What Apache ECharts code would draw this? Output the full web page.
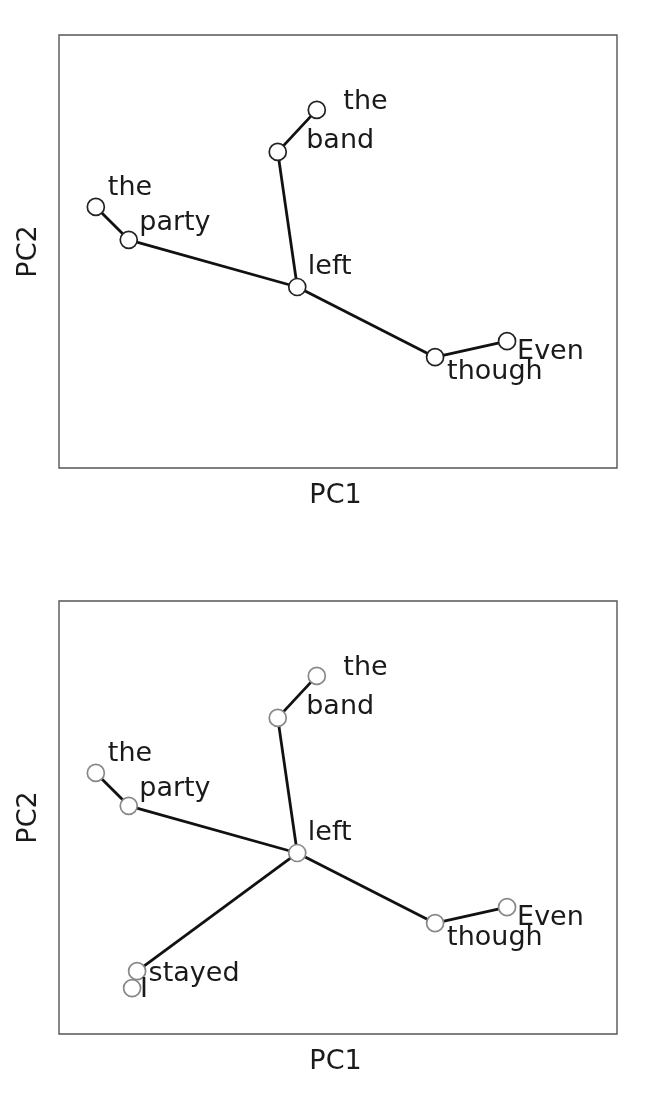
<!DOCTYPE html>
<html>
<head>
<meta charset="utf-8">
<script src="https://cdn.jsdelivr.net/npm/echarts@6/dist/echarts.min.js"></script>
<style>html,body{margin:0;padding:0;background:#fff;}#chart{width:658px;height:1108px;}</style>
</head>
<body>
<div id="chart"></div>
<script>
// ---- data ----
const wordsTop = ['the', 'band', 'the', 'party', 'left', 'though', 'Even'];
const pc1Top = [46.2, 39.2, 6.6, 12.5, 42.7, 67.4, 80.3];
const pc2Top = [82.7, 73.0, 60.3, 52.7, 41.8, 25.6, 29.3];
const edgesTop = [[0, 1], [1, 4], [2, 3], [3, 4], [4, 5], [5, 6]];

const wordsBottom = ['the', 'band', 'the', 'party', 'left', 'though', 'Even', 'stayed', 'I'];
const pc1Bottom = [46.2, 39.2, 6.6, 12.5, 42.7, 67.4, 80.3, 14.0, 13.1];
const pc2Bottom = [82.7, 73.0, 60.3, 52.7, 41.8, 25.6, 29.3, 14.5, 10.6];
const edgesBottom = [[0, 1], [1, 4], [2, 3], [3, 4], [4, 5], [5, 6], [4, 7]];

const axisNames = ['PC1', 'PC2'];

// ---- styling (label pixel offsets from marker centre) ----
const labelOffsets = [[26.5, -8], [28.5, -10.5], [12, -18.5], [10.5, -16.5], [10.5, -20.5], [12, 14.5], [10, 10.5], [11.5, 2.5], [8, 1.5]];

const FONT = 'DejaVu Sans';
const FS = 27;

function panel(idx, words, xs, ys, edges, markerBorder) {
  const series = [];
  edges.forEach(function (e) {
    series.push({
      type: 'line',
      xAxisIndex: idx, yAxisIndex: idx,
      data: [[xs[e[0]], ys[e[0]]], [xs[e[1]], ys[e[1]]]],
      showSymbol: false,
      symbol: 'none',
      lineStyle: { color: '#111', width: 2.8 },
      silent: true, animation: false, z: 2
    });
  });
  series.push({
    type: 'scatter',
    xAxisIndex: idx, yAxisIndex: idx,
    symbol: 'circle',
    symbolSize: 17,
    itemStyle: { color: '#fff', borderColor: markerBorder, borderWidth: 1.7, opacity: 1 },
    data: words.map(function (w, i) {
      return {
        value: [xs[i], ys[i]],
        name: w,
        label: {
          show: true,
          formatter: w,
          position: ['50%', '50%'],
          offset: labelOffsets[i],
          align: 'left',
          verticalAlign: 'middle',
          color: '#1a1a1a',
          fontFamily: FONT,
          fontSize: FS
        }
      };
    }),
    animation: false, z: 5
  });
  return series;
}

const grids = [
  { left: 59, top: 35, width: 558, height: 433, show: true, borderColor: '#555', borderWidth: 1.4, backgroundColor: 'transparent' },
  { left: 59, top: 601, width: 558, height: 433, show: true, borderColor: '#555', borderWidth: 1.4, backgroundColor: 'transparent' }
];

function xAx(i) {
  return {
    gridIndex: i, type: 'value', min: 0, max: 100,
    name: axisNames[0], nameLocation: 'middle', nameGap: 14,
    nameTextStyle: { fontFamily: FONT, fontSize: FS, color: '#1a1a1a', verticalAlign: 'top', padding: [0, 5, 0, 0] },
    axisLine: { show: false }, axisTick: { show: false }, axisLabel: { show: false }, splitLine: { show: false }
  };
}
function yAx(i) {
  return {
    gridIndex: i, type: 'value', min: 0, max: 100,
    name: axisNames[1], nameLocation: 'middle', nameGap: 17,
    nameTextStyle: { fontFamily: FONT, fontSize: FS, color: '#1a1a1a' },
    axisLine: { show: false }, axisTick: { show: false }, axisLabel: { show: false }, splitLine: { show: false }
  };
}

const chart = echarts.init(document.getElementById('chart'), null, { renderer: 'canvas' });
chart.setOption({
  backgroundColor: '#fff',
  animation: false,
  grid: grids,
  xAxis: [xAx(0), xAx(1)],
  yAxis: [yAx(0), yAx(1)],
  series: panel(0, wordsTop, pc1Top, pc2Top, edgesTop, '#222')
    .concat(panel(1, wordsBottom, pc1Bottom, pc2Bottom, edgesBottom, '#888'))
});
</script>
</body>
</html>
